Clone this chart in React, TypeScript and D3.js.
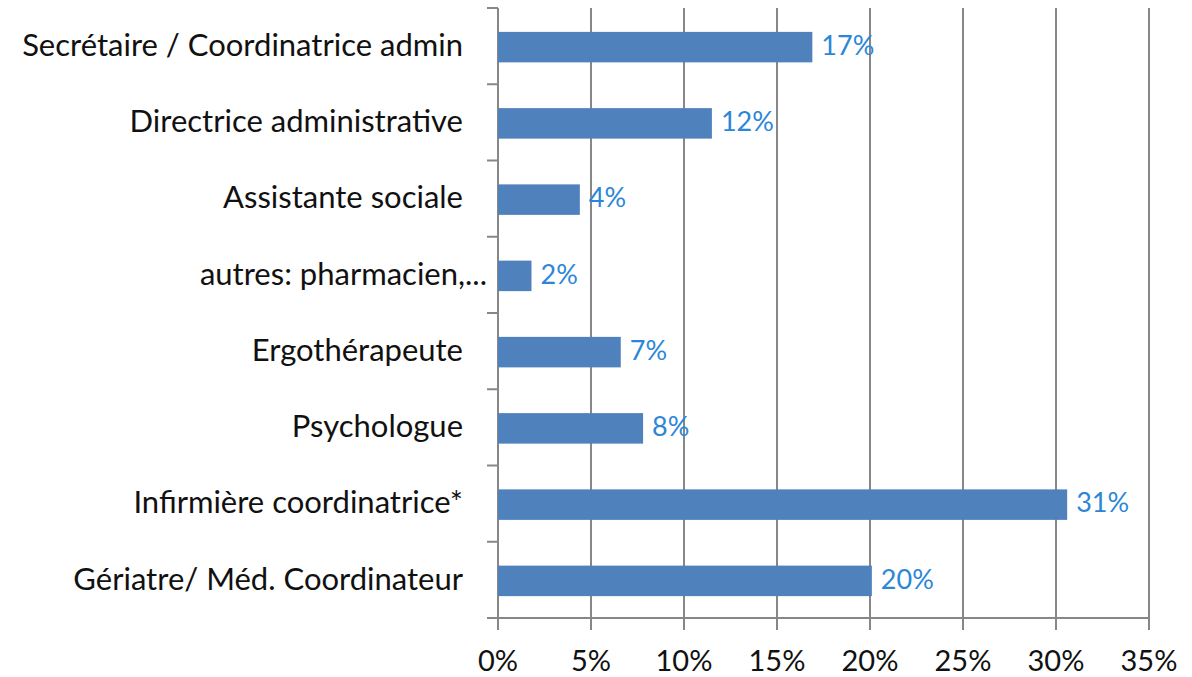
import React from "react";
import * as d3 from "d3";

const categories = [
  "Secrétaire / Coordinatrice admin",
  "Directrice administrative",
  "Assistante sociale",
  "autres: pharmacien,...",
  "Ergothérapeute",
  "Psychologue",
  "Infirmière coordinatrice*",
  "Gériatre/ Méd. Coordinateur",
];
const values = [16.9, 11.5, 4.4, 1.8, 6.6, 7.8, 30.6, 20.1];
const valueLabels = ["17%", "12%", "4%", "2%", "7%", "8%", "31%", "20%"];
const xTicks = [0, 5, 10, 15, 20, 25, 30, 35];
const xTickLabels = ["0%", "5%", "10%", "15%", "20%", "25%", "30%", "35%"];

const W = 1192;
const H = 677;
const left = 498;
const right = 1149;
const top = 8;
const bottom = 618;
const FONT = "Lato, 'Open Sans', sans-serif";

export default function App() {
  const x = d3.scaleLinear().domain([0, 35]).range([left, right]);
  const y = d3.scaleBand<string>().domain(categories).range([top, bottom]).padding(0);
  const bh = y.bandwidth() * 0.4;
  const grid = "#878787";
  return (
    <svg width={W} height={H} style={{ position: "absolute", left: 0, top: 0, background: "#fff" }}>
      {xTicks.map((t) => (
        <line key={"g" + t} x1={x(t)} x2={x(t)} y1={top} y2={bottom + 12} stroke={grid} strokeWidth={2} />
      ))}
      <line x1={left} x2={right} y1={bottom} y2={bottom} stroke={grid} strokeWidth={2} />
      {categories.map((c, i) => (
        <line key={"yt" + i} x1={left - 11} x2={left} y1={y(c)!} y2={y(c)!} stroke={grid} strokeWidth={2} />
      ))}
      <line x1={left - 11} x2={left} y1={bottom} y2={bottom} stroke={grid} strokeWidth={2} />
      {categories.map((c, i) => (
        <rect
          key={"b" + i}
          x={x(0)}
          y={y(c)! + (y.bandwidth() - bh) / 2 + 1}
          width={x(values[i]) - x(0)}
          height={bh}
          fill="#4F81BD"
        />
      ))}
      {categories.map((c, i) => (
        <text
          key={"v" + i}
          x={x(values[i]) + 9}
          y={y(c)! + y.bandwidth() / 2 + 2}
          dominantBaseline="middle"
          fontFamily={FONT}
          fontSize={27}
          fill="#2B86D8"
        >
          {valueLabels[i]}
        </text>
      ))}
      {categories.map((c, i) => (
        <text
          key={"c" + i}
          x={c.endsWith("...") ? left - 11 : left - 35}
          y={y(c)! + y.bandwidth() / 2 + 2}
          dominantBaseline="middle"
          textAnchor="end"
          fontFamily={FONT}
          fontSize={31}
          fill="#111"
        >
          {c}
        </text>
      ))}
      {xTicks.map((t, i) => (
        <text
          key={"xl" + t}
          x={x(t)}
          y={664}
          dominantBaseline="middle"
          textAnchor="middle"
          fontFamily={FONT}
          fontSize={29}
          fill="#111"
        >
          {xTickLabels[i]}
        </text>
      ))}
    </svg>
  );
}
